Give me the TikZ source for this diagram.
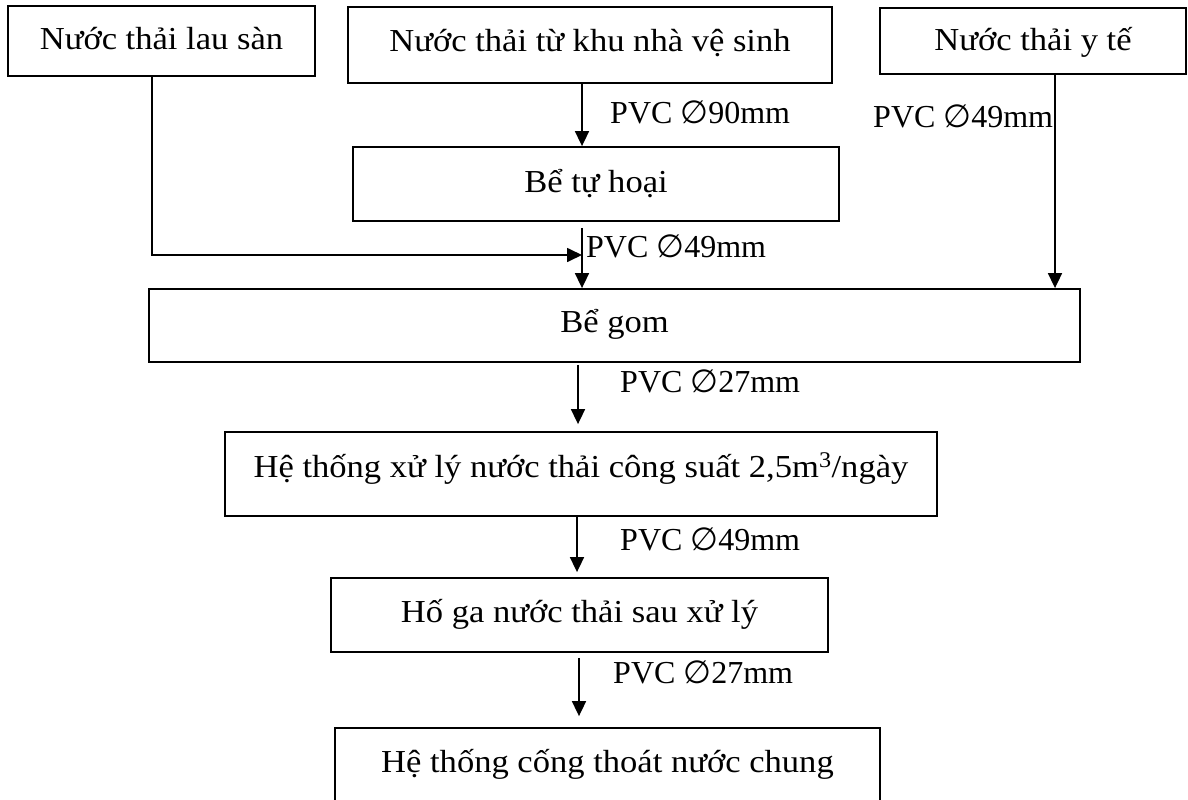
\documentclass[tikz,border=0pt]{standalone}
\usepackage{fontspec}
\setmainfont{Liberation Serif}[FakeStretch=1.08]
\newfontfamily\labf{Liberation Serif}
\newfontfamily\symf{DejaVu Sans}
\usetikzlibrary{arrows.meta}
\newcommand\dia{{\symf ∅}}
\begin{document}
\begin{tikzpicture}[x=1pt,y=-1pt,
  box/.style={draw, line width=1.8pt, inner sep=0pt, anchor=base, font=\fontsize{32}{38}\selectfont},
  lab/.style={anchor=base west, inner sep=0pt, font=\fontsize{32}{38}\labf},
  arr/.style={line width=1.7pt, -{Triangle[length=15pt,width=14pt]}}]
\useasboundingbox (0,0) rectangle (1188,800);
\clip (0,0) rectangle (1188,800);
% boxes
\node[box, minimum width=307pt, text height=43pt, text depth=27pt] (b1) at (161.5,49) {Nước thải lau sàn};
\node[box, minimum width=484pt, text height=45pt, text depth=31pt] (b2) at (590,52) {Nước thải từ khu nhà vệ sinh};
\node[box, minimum width=306pt, text height=43pt, text depth=23pt] (b3) at (1033,51) {Nước thải y tế};
\node[box, minimum width=486pt, text height=45pt, text depth=29pt] (b4) at (596,192) {Bể tự hoại};
\node[box, minimum width=931pt, text height=43pt, text depth=30pt] (b5) at (614.5,332) {Bể gom};
\node[box, minimum width=712pt, text height=45pt, text depth=39pt] (b6) at (581,477) {Hệ thống xử lý nước thải công suất 2,5m\textsuperscript{3}/ngày};
\node[box, minimum width=497pt, text height=44pt, text depth=30pt] (b7) at (579.5,622) {Hố ga nước thải sau xử lý};
\node[box, minimum width=545pt, text height=44pt, text depth=58pt] (b8) at (607.5,772) {Hệ thống cống thoát nước chung};
% helper coordinates
\coordinate (xa) at (582,0);
\coordinate (xl) at (152,0);
\coordinate (xr) at (1055,0);
\coordinate (j) at (582,255);
\coordinate (xb) at (578,0);
\coordinate (xc) at (577,0);
\coordinate (xd) at (579,0);
% connectors
\draw[arr] (b2.south -| xa) -- (b4.north -| xa);
\draw[arr, shorten <=6pt] (b4.south -| xa) -- (b5.north -| xa);
\draw[arr] (b1.south -| xl) |- (j);
\draw[arr] (b3.south -| xr) -- (b5.north -| xr);
\draw[arr, shorten <=2pt, shorten >=7pt] (b5.south -| xb) -- (b6.north -| xb);
\draw[arr, shorten >=5pt] (b6.south -| xc) -- (b7.north -| xc);
\draw[arr, shorten <=5pt, shorten >=11pt] (b7.south -| xd) -- (b8.north -| xd);
% labels
\node[lab] (l1) at (610,123) {PVC \dia90mm};
\node[lab] (l2) at (873,127) {PVC \dia49mm};
\node[lab] (l3) at (586,257) {PVC \dia49mm};
\node[lab] (l4) at (620,392) {PVC \dia27mm};
\node[lab] (l5) at (620,550) {PVC \dia49mm};
\node[lab] (l6) at (613,683) {PVC \dia27mm};
\end{tikzpicture}
\end{document}
